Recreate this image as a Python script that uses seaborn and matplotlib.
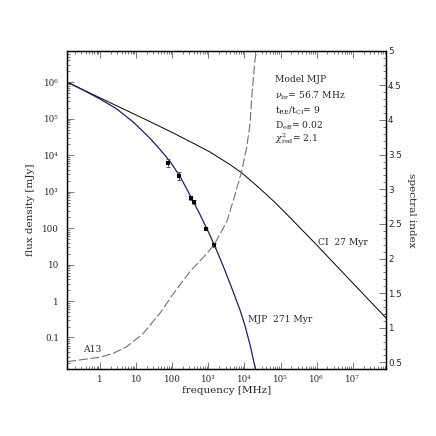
import numpy as np
import pandas as pd
import matplotlib
matplotlib.use("Agg")
import matplotlib.pyplot as plt
import seaborn as sns
from matplotlib.ticker import FixedLocator, FixedFormatter, LogLocator, MultipleLocator, NullFormatter

# ---------------- data ----------------
# CI model, 27 Myr (flux density, mJy)
ci_freq = [0.124, 1.89, 24.3, 86.9, 311, 1114, 3990, 8420, 2.23e4, 6.44e4, 1.83e5,
           1.01e6, 1.29e7, 8.36e7, 2.04e8]
ci_flux = [1.0e6, 2.76e5, 8.28e4, 4.48e4, 2.36e4, 1.22e4, 5.51e3, 3.27e3, 1.43e3, 547, 195,
           34.2, 2.40, 0.344, 0.139]

# MJP model, 271 Myr (flux density, mJy)
mjp_freq = [0.124, 0.354, 1.0, 2.90, 8.36, 24.3, 45.9, 86.9, 164, 311, 589, 1114,
            1797, 2904, 4677, 7551, 1.04e4, 1.43e4, 1.97e4, 2.38e4]
mjp_flux = [1.0e6, 5.98e5, 3.46e5, 1.85e5, 8.03e4, 2.89e4, 1.43e4, 6.73e3, 2.63e3, 798, 235, 62.8,
            21.6, 6.78, 2.0, 0.569, 0.208, 0.0633, 0.0154, 0.0053]

# measured flux densities
obs_freq = [78, 157, 325, 410, 863, 1440]
obs_flux = [6200, 2700, 660, 525, 94, 35]
obs_err = [1400, 650, 70, 55, 8, 4]

# A13 spectral index curve (right axis)
a13_freq = [0.124, 0.316, 1.0, 2.34, 5.5, 15.8, 45.7, 107, 309, 904, 1450, 3240, 5000, 8300,
            1.15e4, 1.43e4, 1.58e4, 1.95e4, 2.24e4]
a13_index = [0.51, 0.54, 0.575, 0.632, 0.727, 0.92, 1.21, 1.49, 1.81, 2.07, 2.2, 2.53, 2.85, 3.25,
             3.6, 3.94, 4.3, 4.86, 5.05]

x_ticks = [1, 10, 100, 1e3, 1e4, 1e5, 1e6, 1e7]
x_labels = ["1", "10", "100", "10³", "10⁴", "10⁵", "10⁶", "10⁷"]
y_ticks = [0.1, 1, 10, 100, 1e3, 1e4, 1e5, 1e6]
y_labels = ["0.1", "1", "10", "100", "10³", "10⁴", "10⁵", "10⁶"]
r_ticks = [0.5, 1, 1.5, 2, 2.5, 3, 3.5, 4, 4.5, 5]
r_labels = ["0.5", "1", "1.5", "2", "2.5", "3", "3.5", "4", "4.5", "5"]

# ---------------- style ----------------
sns.set_style("ticks")
plt.rcParams["font.family"] = ["DejaVu Serif"]
plt.rcParams["mathtext.fontset"] = "dejavuserif"

fig = plt.figure(figsize=(4.36, 4.36), dpi=100)
ax = fig.add_axes([0.1544, 0.1537, 0.7309, 0.7300])
ax.set_xscale("log")
ax.set_yscale("log")
ax2 = ax.twinx()

navy = "#1e1e64"
sns.lineplot(x=ci_freq, y=ci_flux, ax=ax, color="black", lw=0.7, sort=False, estimator=None)
sns.lineplot(x=mjp_freq, y=mjp_flux, ax=ax, color=navy, lw=0.9, sort=False, estimator=None)
ax.errorbar(obs_freq, obs_flux, yerr=obs_err, fmt="none", ecolor="#555555",
            elinewidth=0.7, capsize=1.5, capthick=0.7)
sns.scatterplot(x=obs_freq, y=obs_flux, ax=ax, color="black", marker="s", s=9, linewidth=0, zorder=5)

sns.lineplot(x=a13_freq, y=a13_index, ax=ax2, color="#707070", lw=0.8,
             linestyle=(0, (8, 2.5)), sort=False, estimator=None)

ax.set_xlim(0.124, 8.36e7)
ax.set_ylim(0.01368, 7.31e6)
ax2.set_ylim(0.405, 5.0)

ax.xaxis.set_major_locator(FixedLocator(x_ticks))
ax.xaxis.set_major_formatter(FixedFormatter(x_labels))
ax.xaxis.set_minor_locator(LogLocator(base=10, subs=np.arange(2, 10), numticks=200))
ax.xaxis.set_minor_formatter(NullFormatter())
ax.yaxis.set_major_locator(FixedLocator(y_ticks))
ax.yaxis.set_major_formatter(FixedFormatter(y_labels))
ax.yaxis.set_minor_locator(LogLocator(base=10, subs=np.arange(2, 10), numticks=200))
ax.yaxis.set_minor_formatter(NullFormatter())

ax.tick_params(axis="both", which="both", direction="in", top=True, right=False, width=0.5, color="#444444")
ax.tick_params(axis="both", which="major", length=5, labelsize=6.3)
ax.tick_params(axis="both", which="minor", length=2.5)
ax.tick_params(axis="y", which="major", pad=6)
ax.tick_params(axis="x", which="major", pad=4)

ax.set_xlabel("frequency [MHz]", fontsize=7.5, labelpad=2)
ax.set_ylabel("flux density [mJy]", fontsize=7.5, labelpad=5)

ax2.yaxis.set_major_locator(FixedLocator(r_ticks))
ax2.yaxis.set_major_formatter(FixedFormatter(r_labels))
ax2.yaxis.set_minor_locator(MultipleLocator(0.1))
ax2.tick_params(axis="y", which="both", direction="in", width=0.5, color="#444444")
ax2.tick_params(axis="y", which="major", length=5, labelsize=6.3, pad=1.5)
ax2.tick_params(axis="y", which="minor", length=2.5)
for lab in ax2.get_yticklabels():
    lab.set_family("DejaVu Sans")
ax2.set_ylabel("spectral index", fontsize=7.5, rotation=270, labelpad=10)

for a in (ax, ax2):
    for sp in a.spines.values():
        sp.set_linewidth(0.9)
        sp.set_color("black")

fs = 6.6
tx = 0.652
ax.text(tx, 0.908, "Model MJP", transform=ax.transAxes, fontsize=fs, va="center")
ax.text(tx, 0.859, r"$\nu_{\rm br}$= 56.7 MHz", transform=ax.transAxes, fontsize=fs, va="center")
ax.text(tx, 0.812, r"t$_{\rm RE}$/t$_{\rm CI}$= 9", transform=ax.transAxes, fontsize=fs, va="center")
ax.text(tx, 0.764, r"D$_{\rm eff}$= 0.02", transform=ax.transAxes, fontsize=fs, va="center")
ax.text(tx, 0.723, r"$\chi^2_{\rm red}$= 2.1", transform=ax.transAxes, fontsize=fs, va="center")
ax.text(0.787, 0.396, "CI  27 Myr", transform=ax.transAxes, fontsize=fs, va="center")
ax.text(0.567, 0.157, "MJP  271 Myr", transform=ax.transAxes, fontsize=fs, va="center")
ax.text(0.050, 0.060, "A13", transform=ax.transAxes, fontsize=fs, va="center")

fig.savefig("out.png", dpi=100)
